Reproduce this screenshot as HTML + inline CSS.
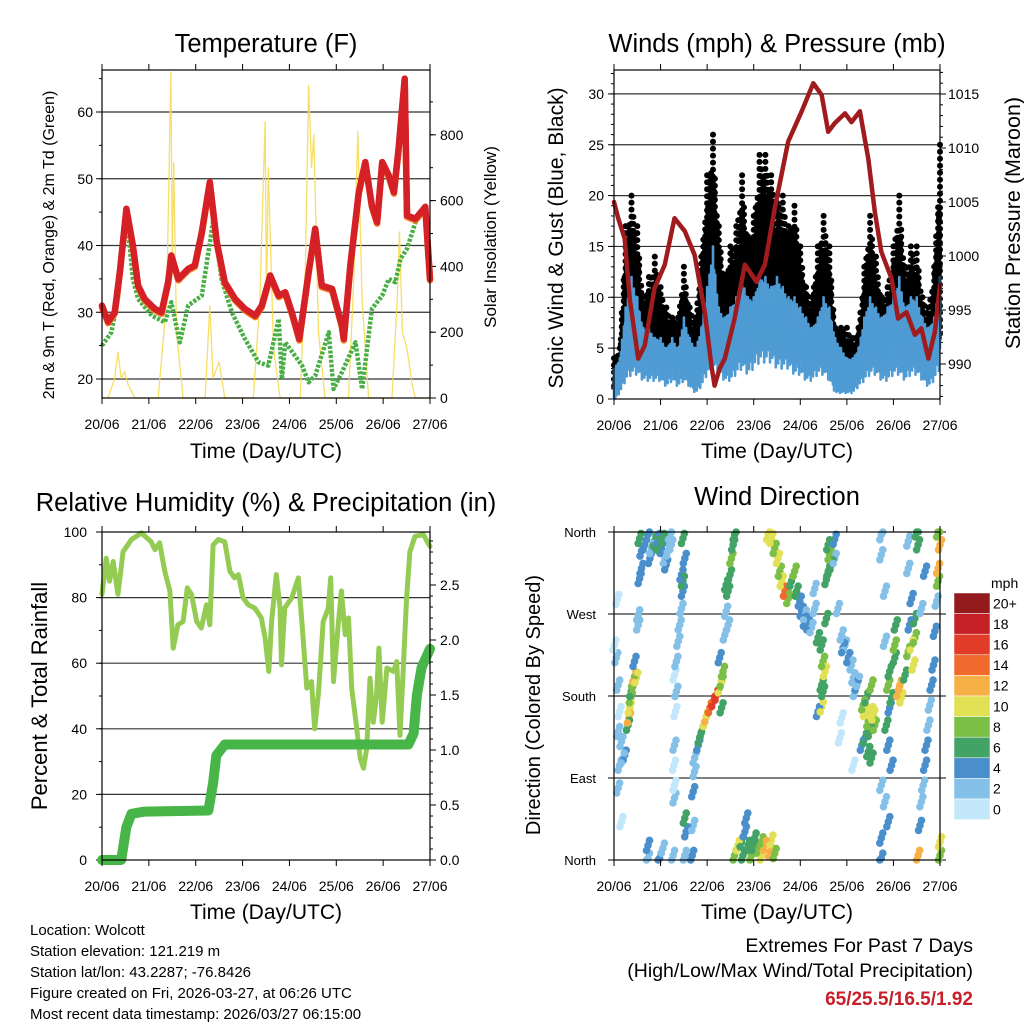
<!DOCTYPE html>
<html><head><meta charset="utf-8"><style>
html,body{margin:0;padding:0;background:#fff;}
svg{display:block;font-family:"Liberation Sans",Arial,sans-serif;}
</style></head><body>
<svg id="c" width="1024" height="1024" viewBox="0 0 1024 1024" xmlns="http://www.w3.org/2000/svg"></svg>
<script>
// ---------- Temperature panel data ----------
const tempDays=[0,.13,.27,.38,.52,.66,.77,.91,1.13,1.27,1.41,1.48,1.63,1.84,1.98,2.13,2.30,2.45,2.62,2.84,3.05,3.27,3.41,3.59,3.77,3.91,4.05,4.21,4.41,4.55,4.69,4.91,5.12,5.16,5.30,5.48,5.62,5.76,5.87,5.98,6.12,6.23,6.33,6.46,6.51,6.69,6.90,7.0];
const tempVals=[31,28.6,30,36,45.5,40,34,32,30.5,30,34.5,38.5,35,36.5,37,42,49.5,40.5,34.5,32,30.5,29.5,31,35.5,32.5,33,30,26,36,42.5,34,33.5,28,26,37,48,52.5,46,43.5,52.5,50.5,48,54.5,65,44.5,44,45.8,35];
const dewDays=[0,.2,.34,.52,.66,.77,1.06,1.34,1.48,1.66,1.84,2.13,2.38,2.55,2.77,3.05,3.34,3.55,3.77,3.84,3.91,4.27,4.41,4.55,4.84,4.94,5.12,5.41,5.55,5.76,5.98,6.12,6.26,6.37,6.51,6.69,6.90,7.0];
const dewVals=[25,27,32,45,35,32,29.5,28.5,31.5,25.5,31,32.5,44,35,30,26,22.5,22,29,20,25.5,22,19.5,20.5,27,18.5,21,25.5,18.5,30.5,32.5,35,34.5,38,39.5,43.5,45.5,34.5];
const solarDays=[0,.13,.27,.34,.41,.48,.56,.7,1.2,1.38,1.47,1.5,1.53,1.59,1.73,2.2,2.3,2.37,2.5,2.62,3.23,3.37,3.48,3.51,3.55,3.66,3.8,4.23,4.34,4.41,4.47,4.52,4.62,4.76,5.26,5.37,5.46,5.55,5.69,6.19,6.3,6.35,6.41,6.51,6.62,6.69,7.0];
const solarVals=[0,0,60,140,60,80,40,0,0,300,990,400,715,200,0,0,280,60,110,0,0,300,840,300,700,150,0,0,400,950,700,800,200,0,0,350,810,300,0,0,300,505,200,150,40,0,0];
// ---------- Wind panel data (3-hourly) ----------
const gustHigh=[4,5,17,20,17,10,12,14,11,9,8,8,13,9,8,14,22,26,17,12,15,17,22,16,18,24,24,22,20,20,17,19,15,11,10,15,18,15,7,7,7,6,7,13,18,14,10,11,15,20,13,15,15,10,9,13,25];
const windHigh=[3,4,9,12,10,7,7,6,6,5,6,5,8,6,5,7,11,15,9,8,9,10,12,10,10,12,12,11,12,11,10,10,9,8,7,8,10,9,6,5,4,4,5,8,10,9,8,9,10,12,9,10,10,8,7,8,12];
const windLow=[0,1,3,4,4,3,3,3,3,2,3,2,3,2,1,2,4,5,4,3,3,4,5,4,5,6,6,6,5,5,5,4,4,3,3,4,4,3,1,1,1,1,2,3,4,4,3,3,4,4,3,4,4,3,2,3,5];
const presDays=[0,.09,.23,.34,.52,.66,.87,1.09,1.30,1.52,1.73,1.95,2.09,2.16,2.27,2.38,2.59,2.81,3.06,3.24,3.45,3.74,4.03,4.28,4.46,4.60,4.74,4.96,5.10,5.28,5.46,5.60,5.74,5.96,6.10,6.28,6.46,6.60,6.75,6.89,7.0];
const presVals=[1005,1003.5,1001.6,996,990.5,991.7,997,999.2,1003.5,1002.3,1000.1,994.8,989.9,988,989.6,990.5,994.2,999.2,997.6,999.2,1004.4,1010.6,1013.4,1016,1014.9,1011.5,1012.3,1013.2,1012.4,1013.4,1009,1004.1,1000.4,997.9,994.2,994.8,992.7,993.3,990.5,993,997.3];
// ---------- RH / precipitation data ----------
const rhDays=[0,.09,.16,.24,.34,.45,.63,.84,1.05,1.13,1.23,1.34,1.45,1.52,1.62,1.73,1.82,1.91,2.02,2.12,2.23,2.30,2.37,2.48,2.62,2.73,2.83,2.91,3.01,3.12,3.26,3.40,3.48,3.56,3.62,3.72,3.80,3.83,3.90,4.05,4.19,4.26,4.37,4.47,4.54,4.62,4.72,4.83,4.88,4.94,5.04,5.11,5.19,5.26,5.33,5.43,5.51,5.58,5.65,5.72,5.79,5.86,5.91,5.98,6.08,6.22,6.29,6.36,6.43,6.50,6.57,6.68,6.86,7.0];
const rhVals=[81,92,85,91,81,94,97.7,99.7,97,94.6,96.7,88,82,64.6,71.7,72.7,83,81,72.7,70.7,77.8,71.7,96,97.7,97,88,86,87,80,77.8,76.8,73.8,67.7,57.5,72.7,87,76.8,59.5,76.8,80,86,73.8,52.4,54.4,40,51,72.7,76.8,86,54.4,71.7,82,68.7,73.8,52.4,41,31,28,34,55.4,42,50.4,64.6,42,58.5,57.5,60.5,38,58.5,80,94,98.7,99.2,95.6];
const precipDays=[0,.41,.52,.63,.91,2.27,2.37,2.44,2.62,6.54,6.65,6.72,6.82,7.0];
const precipVals=[0,0,.3,.42,.44,.45,.7,.95,1.05,1.05,1.15,1.5,1.75,1.92];
// ---------- Wind direction observations [day, degrees, mph] ----------
const dirObs=[[0.01,236,1],[.05,222,2],[.09,192,2],[.12,163,1],[.09,141,3],[.16,130,2],[.23,115,4],[.12,104,2],[.19,112,3],[.09,79,2],[.16,42,1],[.07,286,1],
[.30,148,6],[.32,156,12],[.34,167,10],[.36,178,8],[.37,185,6],[.41,196,8],[.44,201,12],[.48,200,10],[.44,218,4],[.52,258,3],[.52,269,2],
[.55,353,6],[.59,339,4],[.66,346,4],[.73,357,4],[.80,342,3],[.87,350,6],[.95,353,5],[1.02,342,4],[1.09,331,3],[1.16,339,2],[1.23,346,2],[.59,320,4],[.95,346,7],[1.05,353,6],[1.12,324,4],[1.20,357,2],[.77,331,5],[.55,309,4],
[.73,16,4],[.73,2,3],[.98,2,4],[1.05,13,3],[1.27,5,2],
[1.48,353,6],[1.52,331,5],[1.45,313,4],[1.48,295,4],[1.45,276,3],[1.41,258,2],[1.38,240,3],[1.34,218,2],[1.30,203,1],[1.34,185,2],[1.32,163,1],[1.30,126,2],[1.29,104,1],[1.30,82,1],[1.30,68,2],[1.52,46,6],[1.55,31,4],[1.52,5,3],[1.48,306,6],
[1.68,5,4],[1.70,38,3],[1.70,75,4],[1.73,97,3],[1.73,112,2],[1.81,126,4],[1.88,141,6],[1.95,152,10],[1.98,157,12],[2.06,167,14],[2.13,174,16],[2.20,181,16],[2.27,189,10],[2.31,196,8],[2.34,207,8],[2.27,222,4],[2.41,273,2],[2.38,247,3],[2.45,258,2],[2.31,167,6],[1.84,134,6],
[2.45,295,6],[2.49,313,6],[2.52,331,8],[2.56,346,7],[2.59,357,6],[2.41,302,7],
[2.59,5,8],[2.66,16,10],[2.74,20,6],[2.81,31,5],[2.84,46,4],[2.88,16,7],[2.95,5,9],[3.02,24,6],[3.09,13,8],[3.17,20,9],[3.24,16,12],[3.35,9,12],[3.38,22,10],[3.45,7,8],[2.77,5,7],[2.99,16,6],[3.17,5,10],
[3.31,357,10],[3.38,353,10],[3.45,342,8],[3.52,331,10],[3.56,317,8],[3.60,306,10],[3.67,295,14],[3.74,287,8],[3.81,306,7],[3.88,317,8],[3.92,295,6],[3.99,284,5],[4.03,273,4],[4.10,269,3],[4.17,258,4],
[4.10,262,4],[4.24,255,3],[4.31,276,3],[4.38,244,6],[4.46,236,6],[4.49,218,8],[4.53,207,10],[4.46,192,7],[4.49,185,6],[4.38,163,4],[4.46,168,10],[4.31,298,3],[4.56,265,6],[4.81,276,2],
[4.60,346,7],[4.63,335,8],[4.67,324,6],[4.60,317,6],[4.74,352,4],[4.74,331,3],[4.56,308,7],
[4.89,247,2],[4.96,236,3],[5.03,222,4],[5.10,214,2],[5.14,200,3],[5.17,185,2],[5.21,192,4],[5.24,196,3],[4.89,156,1],[4.85,134,1],[5.14,104,1],[4.92,233,4],
[5.35,170,8],[5.39,163,10],[5.46,152,8],[5.53,163,10],[5.57,159,10],[5.60,148,8],[5.49,141,6],[5.53,112,6],[5.39,134,6],[5.46,119,6],[5.42,178,7],[5.32,126,5],[5.53,192,8],
[5.74,357,3],[5.74,335,2],[5.82,295,2],[5.74,82,3],[5.82,64,2],[5.89,42,4],[5.74,24,4],[5.74,2,4],[5.89,126,4],[5.96,104,4],[5.85,148,6],[5.89,192,8],[5.92,207,6],[6.03,236,8],[6.03,222,6],[6.05,258,7],[5.82,240,3],[5.92,167,5],[5.96,178,6],
[6.10,185,12],[6.14,192,12],[6.17,178,10],[6.25,203,6],[6.32,229,8],[6.39,236,10],[6.43,214,10],[6.46,244,8],[6.35,258,4],[6.32,350,2],[6.32,320,3],[6.39,287,4],[6.46,265,6],[6.50,360,6],[6.53,346,6],
[6.53,5,12],[6.57,38,4],[6.60,64,3],[6.64,82,3],[6.68,104,4],[6.71,126,4],[6.75,148,3],[6.78,170,3],[6.82,192,4],[6.86,214,4],[6.89,251,4],[6.93,284,3],[6.96,306,8],[6.96,320,12],[7.0,346,12],[6.96,360,8],[7.0,20,10],[7.0,5,8],[6.68,317,4],[6.60,276,3]];
const speedColors=["#c2e7fa","#84c0e8","#4a8fcb","#43a366","#7bbf47","#e2e055","#f7b045","#ef6a2d","#e03c28","#c42026","#931b1d"];
const speedLabels=["0","2","4","6","8","10","12","14","16","18","20+"];
const dayLabels=["20/06","21/06","22/06","23/06","24/06","25/06","26/06","27/06"];

const svg=document.getElementById('c');
const NS="http://www.w3.org/2000/svg";
function el(tag,attrs,parent){const e=document.createElementNS(NS,tag);for(const k in attrs)e.setAttribute(k,attrs[k]);(parent||svg).appendChild(e);return e;}
function txt(s,x,y,size,anchor,parent,extra){const t=el('text',Object.assign({x:x,y:y,'font-size':size,'text-anchor':anchor||'start',fill:'#000'},extra||{}),parent);t.textContent=s;return t;}
function line(x1,y1,x2,y2,stroke,w,parent){return el('line',{x1,y1,x2,y2,stroke,'stroke-width':w},parent);}
function poly(pts,stroke,w,parent,extra){return el('polyline',Object.assign({points:pts.map(p=>p[0].toFixed(1)+','+p[1].toFixed(1)).join(' '),fill:'none',stroke,'stroke-width':w,'stroke-linejoin':'round','stroke-linecap':'round'},extra||{}),parent);}

function xAxis(g,x0,x1,yb,yt){
  for(let d=0;d<=7;d++){const x=x0+(x1-x0)*d/7;line(x,yb,x,yb+6,'#000',1,g);line(x,yt,x,yt-6,'#000',1,g);
    const t=txt(dayLabels[d],x,yb+31,14,'middle',g);
    
    }
}
function yTicks(g,vals,yf,x,dir,major){vals.forEach(v=>{const y=yf(v);line(x,y,x+dir*(major?6:3),y,'#000',1,g);});}

// ===== Panel 1: Temperature =====
(function(){
  const g=el('g',{});
  const x0=102,x1=430,yt=70,yb=398;
  const X=d=>x0+(x1-x0)*d/7, Y=v=>379-(v-20)*6.675, YS=v=>398-v*0.329;
  const gl=el('g',{},g);
  [20,30,40,50,60].forEach(v=>{line(x0,Y(v),x1,Y(v),'#333',1.2,gl);
    const t=txt(String(v),93,Y(v)+5,14,'end',g);});
  const minor=[];for(let v=20;v<=65;v+=5)minor.push(v);yTicks(g,minor,Y,x0,-1,false);yTicks(g,[20,30,40,50,60],Y,x0,-1,true);
  [0,200,400,600,800].forEach(v=>{const t=txt(String(v),440,YS(v)+5,14,'start',g);});
  const rm=[];for(let v=0;v<=900;v+=100)rm.push(v);yTicks(g,rm,YS,x1,1,false);yTicks(g,[0,200,400,600,800],YS,x1,1,true);
  const s=poly(solarDays.map((d,i)=>[X(d),YS(solarVals[i])]),'#f6d94a',1.3,g,{'stroke-opacity':0.85});
  
  const dw=poly(dewDays.map((d,i)=>[X(d),Y(dewVals[i])]),'#4aae47',4.5,g,{'stroke-dasharray':'3 1.6','stroke-linecap':'butt'});
  
  const o=poly(tempDays.map((d,i)=>[X(d),Y(tempVals[i])+1.5]),'#f07d22',6.5,g);
  
  const r=poly(tempDays.map((d,i)=>[X(d),Y(tempVals[i])]),'#d42026',6.5,g);
  
  const f=el('rect',{x:x0,y:yt,width:x1-x0,height:yb-yt,fill:'none',stroke:'#000','stroke-width':1.2},g);
  
  xAxis(g,x0,x1,yb,yt);
  let t=txt('Temperature (F)',266,52,25.5,'middle',g);
  t=txt('2m & 9m T (Red, Orange) & 2m Td (Green)',0,0,16,'middle',g,{transform:'translate(54,245) rotate(-90)'});
  t=txt('Solar Insolation (Yellow)',0,0,17,'middle',g,{transform:'translate(496,237) rotate(-90)'});
  t=txt('Time (Day/UTC)',266,458,21,'middle',g);
})();

// ===== Panel 2: Winds & Pressure =====
(function(){
  const g=el('g',{});
  const x0=614,x1=940,yt=70,yb=399;
  const X=d=>x0+(x1-x0)*d/7, Y=v=>399-v*10.17, YP=v=>94+(1015-v)*10.8;
  const gl=el('g',{},g);
  [0,5,10,15,20,25,30].forEach(v=>{if(v>0)line(x0,Y(v),x1,Y(v),'#333',1.2,gl);
    const t=txt(String(v),604,Y(v)+5,14,'end',g);});
  const mn=[];for(let v=0;v<=32;v++)mn.push(v);yTicks(g,mn,Y,x0,-1,false);yTicks(g,[0,5,10,15,20,25,30],Y,x0,-1,true);
  [990,995,1000,1005,1010,1015].forEach(v=>{const t=txt(String(v),948,YP(v)+5,14,'start',g);});
  const pm=[];for(let v=987;v<=1017;v++)pm.push(v);yTicks(g,pm,YP,x1,1,false);yTicks(g,[990,995,1000,1005,1010,1015],YP,x1,1,true);
  const n=gustHigh.length;
  const interp=(arr,t)=>{const i=Math.min(n-2,Math.floor(t));const f=t-i;return arr[i]*(1-f)+arr[i+1]*f;};
  // gust dot cloud
  const gg=el('g',{},g);
  const SUB=6;
  for(let k=0;k<=(n-1)*SUB;k++){
    const t=k/SUB;const x=X(t/8);
    const fac=[1,0.8,0.93,0.7,0.88,0.76][k%6];
    const top=Y(interp(gustHigh,t)*fac+interp(windHigh,t)*(1-fac)*0.3);
    const bot=Y(interp(windLow,t)+1);
    for(let y=top;y<=bot;y+=((k%2)?5:7)){
      const c=el('circle',{cx:x.toFixed(1),cy:y.toFixed(1),r:3,fill:'#000'},gg);
      
      
    }
  }
  // sonic wind jagged band
  const bg=el('g',{},g);
  const SB=10;
  for(let k=0;k<=(n-1)*SB;k++){
    const t=k/SB;const x=X(t/8);
    const fh=[1,0.78,0.92,0.7,0.97,0.82,0.74,0.95,0.8,0.88][k%10];
    const fl=[1,1.4,0.7,1.2,0.9,1.5,0.8,1.1,0.6,1.3][k%10];
    const hi=interp(windHigh,t)*fh, lo=interp(windLow,t)*fl;
    const l=line(x.toFixed(1),Y(hi).toFixed(1),x.toFixed(1),Y(Math.min(lo,hi)).toFixed(1),'#4f9bd4',2.6,bg);
    l.setAttribute('stroke-linecap','round');
  }
  const p=poly(presDays.map((d,i)=>[X(d),YP(presVals[i])]),'#a01b1e',4.5,g);
  
  const f=el('rect',{x:x0,y:yt,width:x1-x0,height:yb-yt,fill:'none',stroke:'#000','stroke-width':1.2},g);
  
  xAxis(g,x0,x1,yb,yt);
  let t=txt('Winds (mph) & Pressure (mb)',777,52,25.5,'middle',g);
  t=txt('Sonic Wind & Gust (Blue, Black)',0,0,21,'middle',g,{transform:'translate(563,238) rotate(-90)'});
  t=txt('Station Pressure (Maroon)',0,0,21.5,'middle',g,{transform:'translate(1020,223) rotate(-90)'});
  t=txt('Time (Day/UTC)',777,458,21,'middle',g);
})();

// ===== Panel 3: RH & Precip =====
(function(){
  const g=el('g',{});
  const x0=102,x1=430,yt=532,yb=860;
  const X=d=>x0+(x1-x0)*d/7, Y=v=>860-v*3.28, YR=v=>860-v*110;
  const gl=el('g',{},g);
  [0,20,40,60,80,100].forEach(v=>{if(v>0&&v<100)line(x0,Y(v),x1,Y(v),'#333',1.2,gl);
    const t=txt(String(v),87,Y(v)+5,14,'end',g);});
  const mn=[];for(let v=0;v<=100;v+=10)mn.push(v);yTicks(g,mn,Y,x0,-1,false);yTicks(g,[0,20,40,60,80,100],Y,x0,-1,true);
  ['0.0','0.5','1.0','1.5','2.0','2.5'].forEach(s=>{const v=parseFloat(s);const t=txt(s,440,YR(v)+5,14,'start',g);});
  const rm=[];for(let v=0;v<=2.95;v+=0.1)rm.push(v);yTicks(g,rm,YR,x1,1,false);yTicks(g,[0,.5,1,1.5,2,2.5],YR,x1,1,true);
  const rh=poly(rhDays.map((d,i)=>[X(d),Y(rhVals[i])]),'#94cb52',5,g);
  
  const pr=poly(precipDays.map((d,i)=>[X(d),YR(precipVals[i])]),'#48b548',10,g);
  
  const f=el('rect',{x:x0,y:yt,width:x1-x0,height:yb-yt,fill:'none',stroke:'#000','stroke-width':1.2},g);
  
  xAxis(g,x0,x1,yb,yt);
  let t=txt('Relative Humidity (%) & Precipitation (in)',266,511,25.5,'middle',g);
  t=txt('Percent & Total Rainfall',0,0,22,'middle',g,{transform:'translate(47,696) rotate(-90)'});
  t=txt('Time (Day/UTC)',266,919,21,'middle',g);
})();

// ===== Panel 4: Wind Direction =====
(function(){
  const g=el('g',{});
  const x0=614,x1=940,yt=532,yb=860;
  const X=d=>x0+(x1-x0)*d/7, Y=v=>860-v*(328/360);
  const gl=el('g',{},g);
  const dirNames=['North','East','South','West','North'];
  dirNames.forEach((s,i)=>{const v=i*90;if(i>0&&i<4)line(x0,Y(v),x1,Y(v),'#333',1.2,gl);
    line(x0,Y(v),x0-6,Y(v),'#000',1,g);line(x1,Y(v),x1+6,Y(v),'#000',1,g);
    const t=txt(s,596,Y(v)+5,13,'end',g);});
  const pg=el('g',{},g);
  const offs=[[0,0],[1.5,-5],[-1.5,5]];
  offs.forEach(of=>{
    dirObs.forEach(o=>{const b=Math.min(10,Math.floor(o[2]/2));
      const cy=Math.max(yt,Math.min(yb,Y(o[1])+of[1]));
      const c=el('circle',{cx:(X(o[0])+of[0]).toFixed(1),cy:cy.toFixed(1),r:3.8,fill:speedColors[b]},pg);
      
      });
  });
  const f=el('rect',{x:x0,y:yt,width:x1-x0,height:yb-yt,fill:'none',stroke:'#000','stroke-width':1.2},g);
  
  xAxis(g,x0,x1,yb,yt);
  let t=txt('Wind Direction',777,505,25.5,'middle',g);
  t=txt('Direction (Colored By Speed)',0,0,20,'middle',g,{transform:'translate(540,705) rotate(-90)'});
  t=txt('Time (Day/UTC)',777,919,21,'middle',g);
  const cb=el('g',{},g);
  t=txt('mph',991,588,14,'start',cb);
  const bh=20.6;
  for(let i=0;i<11;i++){const k=10-i;const y=593+i*bh;
    const r=el('rect',{x:954,y:y,width:36,height:bh,fill:speedColors[k],stroke:'#fff','stroke-width':0.5},cb);
    
    const l=txt(speedLabels[k],993,y+bh/2+5,14,'start',cb);}
})();

// ===== Footer text =====
(function(){
  const g=el('g',{});
  ['Location: Wolcott','Station elevation: 121.219 m','Station lat/lon: 43.2287; -76.8426','Figure created on Fri, 2026-03-27, at 06:26 UTC','Most recent data timestamp: 2026/03/27 06:15:00'].forEach((s,i)=>{
    const t=txt(s,30,935+i*21,15,'start',g);});
  const e=el('g',{});
  let t=txt('Extremes For Past 7 Days',973,952,19.5,'end',e);
  t=txt('(High/Low/Max Wind/Total Precipitation)',973,977,19.5,'end',e);
  t=txt('65/25.5/16.5/1.92',973,1005,19,'end',e,{fill:'#c8202a','font-weight':'bold'});
})();
</script>
</body></html>
